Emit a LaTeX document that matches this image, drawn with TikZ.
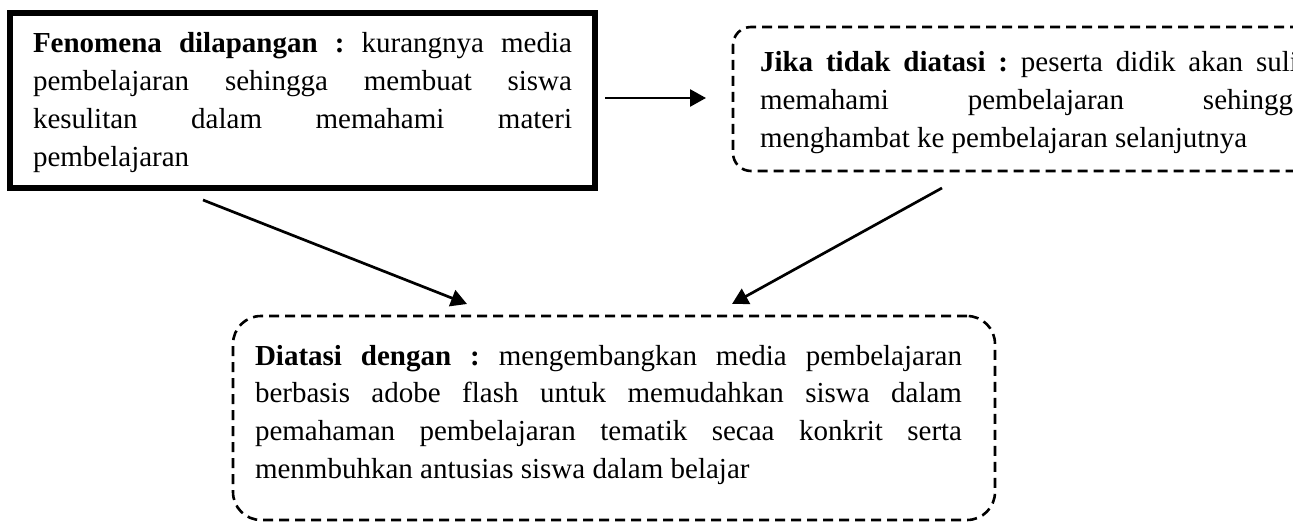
\documentclass[tikz,border=0pt]{standalone}
\usepackage{fontspec}
\setmainfont{Liberation Serif}
\usetikzlibrary{arrows.meta}
\newcommand{\lstrut}{\rule[-10pt]{0pt}{37.8pt}}
\newcommand{\jline}[1]{\hbox to\hsize{\lstrut#1}}
\newcommand{\lline}[1]{\hbox{\lstrut#1}}
\newcommand{\txtsetup}{\fontsize{29pt}{37.8pt}\selectfont\frenchspacing\offinterlineskip}
\tikzset{
  txt/.style={anchor=north west, inner sep=0pt, outer sep=0pt},
  solidbox/.style={draw, line width=6.5pt, inner sep=0pt, outer sep=0pt},
  dashbox/.style={draw, line width=2.6pt, dash pattern=on 10pt off 6pt, inner sep=0pt, outer sep=0pt},
  conn/.style={line width=2.7pt, -{Triangle[length=16pt,width=17pt]}}
}
\begin{document}
\begin{tikzpicture}[x=1pt,y=-1pt]
\useasboundingbox (0,0) rectangle (1293,524);
\clip (0,0) rectangle (1293,524);
% boxes
\node[solidbox, minimum width=585pt, minimum height=175pt] (fen) at (302.5,100.5) {};
\node[dashbox, rounded corners=18pt, minimum width=617pt, minimum height=144pt] (jika) at (1041.5,99) {};
\node[dashbox, rounded corners=28pt, minimum width=762pt, minimum height=204pt] (dia) at (614,418) {};
% texts
\node[txt] (fentxt) at (33,25.2) {\vbox{\txtsetup\hsize=539pt
  \jline{\textbf{Fenomena dilapangan :} kurangnya media}
  \jline{pembelajaran sehingga membuat siswa}
  \jline{kesulitan dalam memahami materi}
  \lline{pembelajaran}}};
\node[txt] (jikatxt) at (760,44.2) {\vbox{\txtsetup\hsize=546pt
  \jline{\textbf{Jika tidak diatasi :} peserta didik akan sulit}
  \jline{memahami pembelajaran sehingga}
  \lline{menghambat ke pembelajaran selanjutnya}}};
\node[txt] (diatxt) at (255,337.2) {\vbox{\txtsetup\hsize=707pt
  \jline{\textbf{Diatasi dengan :} mengembangkan media pembelajaran}
  \jline{berbasis adobe flash untuk memudahkan siswa dalam}
  \jline{pemahaman pembelajaran tematik secaa konkrit serta}
  \lline{menmbuhkan antusias siswa dalam belajar}}};
% connectors
\draw[conn] ([shift={(10,-2.5)}]fen.east) -- ([shift={(-27,-1)}]jika.west);
\draw[conn] ([shift={(-99.5,12)}]fen.south) -- ([shift={(-147,-12)}]dia.north);
\draw[conn] ([shift={(-99.5,17)}]jika.south) -- ([shift={(118,-12)}]dia.north);
\end{tikzpicture}
\end{document}
